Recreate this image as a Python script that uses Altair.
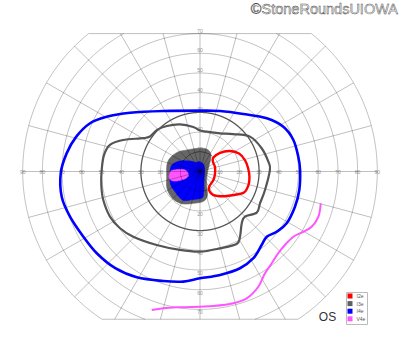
import altair as alt
import numpy as np
import pandas as pd

# ---------------- data (visual-field degrees; x: right +, y: up +) ----------------
# I4e isopter (closed)
I4E_X = [0, -18.6, -35.5, -47.4, -55.8, -62.8, -67.7, -70.7, -70.2, -66.0, -59.2, -52.4,
         -43.0, -32.1, -18.6, -8.5, 0, 10.2, 20.3, 27.1, 31.3, 33.9, 38.9, 44.0, 48.2,
         50.4, 50.8, 49.9, 47.4, 42.3, 33.9, 22.0, 10.2]
I4E_Y = [30.9, 30.7, 29.8, 27.8, 24.5, 17.7, 9.2, -0.9, -12.8, -22.9, -33.1, -41.5,
         -49.1, -53.7, -55.6, -55.9, -54.2, -52.5, -49.1, -44.0, -37.3, -33.1, -30.6,
         -26.3, -17.9, -9.4, 0.8, 7.5, 16.0, 22.7, 27.0, 29.2, 30.7]
# I3e isopter (closed)
I3E_X = [0, -3.4, -10.2, -16.8, -21.8, -25.4, -28.9, -39.1, -45.7, -48.7, -49.9, -50.1,
         -49.1, -45.7, -40.6, -33.9, -22.0, -10.2, 0, 10.2, 18.6, 20.3, 21.2, 22.8, 28.8,
         30.5, 33.0, 35.5, 34.7, 31.3, 25.4, 16.9, 10.2, 3.4]
I3E_Y = [20.8, 22.6, 23.9, 23.1, 21.1, 17.8, 16.9, 16.0, 13.5, 8.4, 0.8, -7.0, -14.5,
         -22.9, -28.8, -33.1, -37.3, -39.8, -40.7, -39.0, -36.8, -33.1, -26.3, -22.9,
         -20.9, -16.1, -9.4, 0.8, 5.0, 11.8, 17.7, 19.0, 19.4, 20.2]
# I2e isopter (closed)
I2E_X = [6.8, 10.2, 15.2, 19.8, 22.8, 24.4, 25.1, 24.6, 22.3, 17.3, 11.2, 6.6, 4.6, 4.8,
         6.8, 7.6, 7.6, 6.6]
I2E_Y = [7.1, 9.5, 10.4, 9.1, 5.8, 1.8, -2.8, -6.9, -10.7, -11.9, -12.6, -11.9, -9.6,
         -7.4, -4.3, -1.3, 2.3, 4.8]
# V4e isopter (open, inferotemporal fragment)
V4E_X = [-24.5, -18.6, -10.2, 0, 6.8, 16.9, 23.7, 29.6, 33.0, 36.4, 39.7, 43.1, 47.4,
         52.4, 56.7, 60.1, 61.3]
V4E_Y = [-70.3, -69.4, -68.9, -68.6, -68.3, -66.9, -64.4, -58.5, -51.7, -46.6, -41.5,
         -37.3, -33.1, -30.6, -28.0, -22.9, -16.1]
# central scotomas (filled)
SC_I3E_X = [-15.2, -11.2, -6.6, -1.0, 3.6, 5.6, 4.8, 3.8, 3.3, 3.8, 2.0, -2.0, -8.1,
            -11.8, -14.7, -16.8, -16.9, -16.8]
SC_I3E_Y = [6.9, 9.9, 10.9, 11.8, 11.3, 8.4, 3.8, -0.3, -5.8, -11.9, -15.0, -16.0, -16.5,
            -15.3, -12.8, -8.4, -2.6, 3.3]
SC_I4E_X = [-13.7, -10.2, -5.1, -2.0, -0.5, 1.7, 2.3, 2.0, 1.8, 0.9, -3.6, -8.1, -10.7,
            -12.7, -15.0, -15.2, -14.9]
SC_I4E_Y = [3.8, 5.3, 5.3, 4.6, 5.0, 3.8, 0.8, -5.3, -11.2, -13.5, -14.2, -14.7, -12.8,
            -10.2, -6.3, -1.3, 1.8]
SC_V4E_X = [-15.6, -14.7, -12.2, -9.1, -6.8, -5.9, -7.6, -11.7, -14.5, -15.6]
SC_V4E_Y = [-1.8, 0.3, 0.9, 1.1, 0.3, -2.0, -3.7, -4.8, -4.6, -3.3]

LEGEND_NAMES = ["I2e", "I3e", "I4e", "V4e"]
LEGEND_COLORS = ["#ff0000", "#5f5f5f", "#0000ff", "#ff55ff"]

RINGS = [10, 20, 30, 40, 50, 60, 70, 80, 90]
MERIDIANS = list(range(0, 360, 15))
H_LABELS = [-90, -80, -70, -60, -50, -40, -30, -20, -10, 10, 20, 30, 40, 50, 60, 70, 80, 90]
V_LABELS = [10, 20, 30, 40, 50, 60, 70]
FIELD_TOP, FIELD_BOTTOM = 70, -75

# ---------------- layout ----------------
W, H = 400, 352
CX, CY, PX = 200, 171.5, 1.97
xs = alt.Scale(domain=[-CX / PX, (W - CX) / PX], nice=False, zero=False)
ys = alt.Scale(domain=[-(H - CY) / PX, CY / PX], nice=False, zero=False)


def X(f):
    return alt.X(f"{f}:Q", scale=xs, axis=None)


def Y(f):
    return alt.Y(f"{f}:Q", scale=ys, axis=None)


def cdf(xl, yl):
    return pd.DataFrame({"x": xl, "y": yl, "i": list(range(len(xl)))})


# ---------------- grid geometry ----------------
rows = []
seg = 0
for r in RINGS:
    t = np.radians(np.arange(0, 360.05, 0.1))
    gx, gy = r * np.cos(t), r * np.sin(t)
    ok = (gy <= FIELD_TOP + 1e-9) & (gy >= FIELD_BOTTOM - 1e-9)
    k = 0
    started = False
    for x_, y_, o in zip(gx, gy, ok):
        if o:
            rows.append({"x": x_, "y": y_, "seg": seg, "i": k, "r": r})
            k += 1
            started = True
        elif started:
            seg += 1
            k = 0
            started = False
    seg += 1
R_OUT = RINGS[-1]
for b in (FIELD_TOP, FIELD_BOTTOM):
    hx = np.sqrt(R_OUT ** 2 - b ** 2)
    rows.append({"x": -hx, "y": b, "seg": seg, "i": 0, "r": 0})
    rows.append({"x": hx, "y": b, "seg": seg, "i": 1, "r": 0})
    seg += 1
rings_df = pd.DataFrame(rows)

sp = []
for a in MERIDIANS:
    s, c = np.sin(np.radians(a)), np.cos(np.radians(a))
    rr = R_OUT
    if s * rr > FIELD_TOP:
        rr = FIELD_TOP / s
    if s * rr < FIELD_BOTTOM:
        rr = FIELD_BOTTOM / s
    sp.append({"x": 0.0, "y": 0.0, "x2": rr * c, "y2": rr * s})
spokes_df = pd.DataFrame(sp)

GRID_OP = 0.25

rings_light = alt.Chart(rings_df).transform_filter("datum.r != 30").mark_line(
    color="black", opacity=GRID_OP, strokeWidth=1).encode(
    x=X("x"), y=Y("y"), detail="seg:N", order="i:Q")
ring30 = alt.Chart(rings_df).transform_filter("datum.r == 30").mark_line(
    color="#555555", strokeWidth=1.3).encode(
    x=X("x"), y=Y("y"), detail="seg:N", order="i:Q")
spokes = alt.Chart(spokes_df).mark_rule(color="black", opacity=GRID_OP, strokeWidth=1).encode(
    x=X("x"), y=Y("y"), x2="x2:Q", y2="y2:Q")

# ---------------- axis labels ----------------
lab_font = "Liberation Sans"
hl = alt.Chart(pd.DataFrame({"x": H_LABELS, "y": [0] * len(H_LABELS),
                             "t": [str(abs(v)) for v in H_LABELS]})).mark_text(
    fontSize=5, color="#999999", font=lab_font, baseline="middle").encode(
    x=X("x"), y=Y("y"), text="t:N")
vu = alt.Chart(pd.DataFrame({"x": [0] * len(V_LABELS), "y": V_LABELS,
                             "t": [str(v) for v in V_LABELS]})).mark_text(
    fontSize=5, color="#999999", font=lab_font, baseline="middle", dy=-3).encode(
    x=X("x"), y=Y("y"), text="t:N")
vd = alt.Chart(pd.DataFrame({"x": [0] * len(V_LABELS), "y": [-v for v in V_LABELS],
                             "t": [str(v) for v in V_LABELS]})).mark_text(
    fontSize=5, color="#999999", font=lab_font, baseline="middle", dy=3).encode(
    x=X("x"), y=Y("y"), text="t:N")


# ---------------- isopters ----------------
def filled(xl, yl, color):
    return alt.Chart(cdf(xl, yl)).mark_line(
        fill=color, stroke=color, strokeWidth=0.6, interpolate="cardinal-closed").encode(
        x=X("x"), y=Y("y"), order="i:Q")


def closed(xl, yl, color, w):
    return alt.Chart(cdf(xl, yl)).mark_line(
        color=color, strokeWidth=w, interpolate="cardinal-closed").encode(
        x=X("x"), y=Y("y"), order="i:Q")


def opened(xl, yl, color, w):
    return alt.Chart(cdf(xl, yl)).mark_line(
        color=color, strokeWidth=w, interpolate="catmull-rom").encode(
        x=X("x"), y=Y("y"), order="i:Q")


f_i3e = filled(SC_I3E_X, SC_I3E_Y, "#666666")
f_i4e = filled(SC_I4E_X, SC_I4E_Y, "#0000ff")
f_v4e = filled(SC_V4E_X, SC_V4E_Y, "#ff55ff")

l_i4e = closed(I4E_X, I4E_Y, LEGEND_COLORS[2], 2.6)
l_i3e = closed(I3E_X, I3E_Y, "#555555", 2.2)
l_i2e = closed(I2E_X, I2E_Y, LEGEND_COLORS[0], 2.4)
l_v4e = opened(V4E_X, V4E_Y, LEGEND_COLORS[3], 2.0)

# ---------------- legend ----------------
leg = alt.Chart(pd.DataFrame({"iso": LEGEND_NAMES, "x": [0] * 4, "y": [0] * 4})).mark_square(
    filled=True, opacity=0, size=1).encode(
    x=X("x"), y=Y("y"),
    color=alt.Color("iso:N", scale=alt.Scale(domain=LEGEND_NAMES, range=LEGEND_COLORS),
                    legend=alt.Legend(orient="none", legendX=346, legendY=292, title=None,
                                      symbolType="square", symbolSize=25, symbolOpacity=1,
                                      symbolStrokeWidth=0, labelFontSize=5, labelColor="#555555",
                                      labelFont=lab_font, labelOffset=4, rowPadding=1.6,
                                      padding=1.5, strokeColor="#bbbbbb", fillColor="white")))

# ---------------- annotations ----------------
os_text = alt.Chart(pd.DataFrame({"t": ["OS"]})).mark_text(
    fontSize=12, font="Liberation Sans", color="#333333", align="center",
    baseline="alphabetic").encode(x=alt.value(327.5), y=alt.value(320.5), text="t:N")
copy_text = alt.Chart(pd.DataFrame({"t": ["©StoneRoundsUIOWA"]})).mark_text(
    fontSize=14.5, font="Liberation Sans", color="#f2f2f2", stroke="#444444",
    strokeWidth=0.45, align="right", baseline="alphabetic").encode(
    x=alt.value(398), y=alt.value(14), text="t:N")

chart = alt.layer(
    hl, vu, vd,
    f_i3e, f_i4e, f_v4e,
    rings_light, spokes, ring30,
    l_i4e, l_i3e, l_i2e, l_v4e,
    leg, os_text, copy_text,
).properties(
    width=W, height=H, padding=0,
    autosize=alt.AutoSizeParams(type="none"),
    background="white",
).configure_view(stroke=None)

chart.save("out.html", embed_options={"renderer": "svg", "actions": False})
